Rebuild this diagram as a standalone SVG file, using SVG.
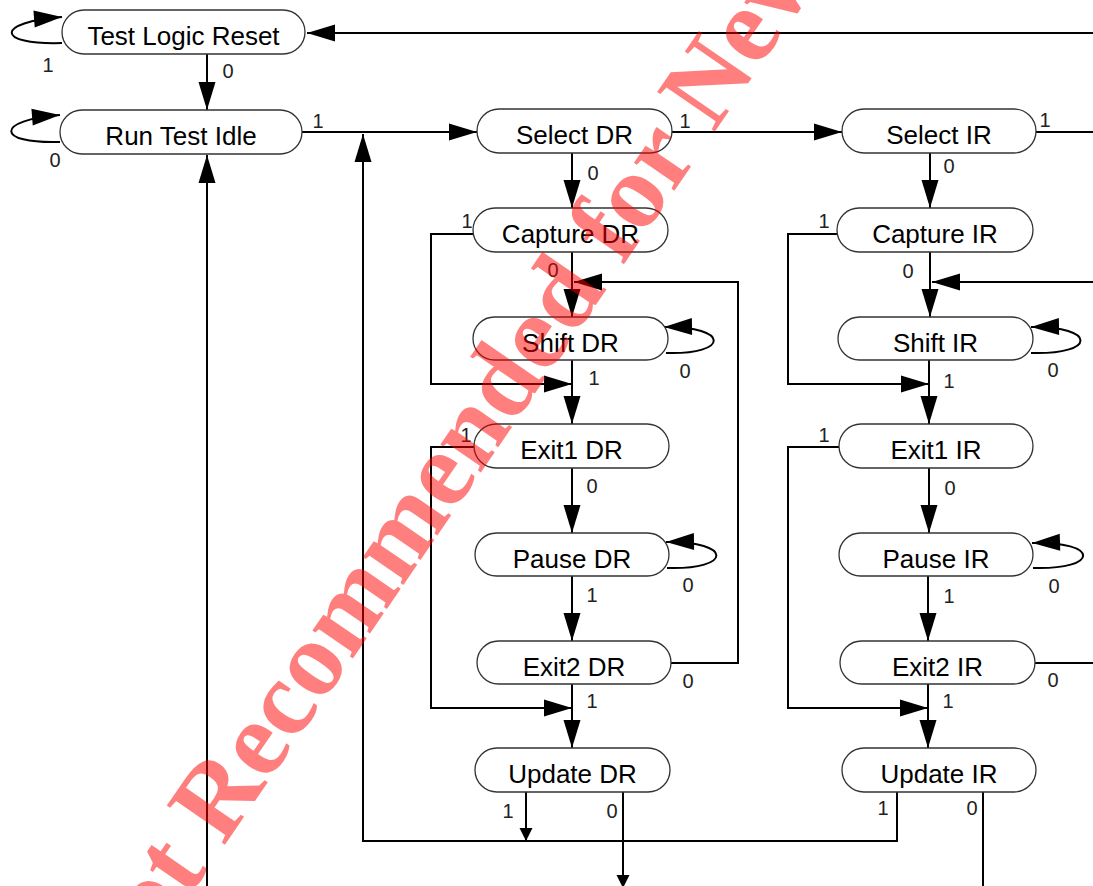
<svg xmlns="http://www.w3.org/2000/svg" width="1093" height="886" viewBox="0 0 1093 886">
<defs>
<style>
.node rect{fill:#fff;stroke:#333;stroke-width:1.3}
.node text{font-family:"Liberation Sans",Arial,sans-serif;font-size:26px;fill:#000;text-anchor:middle}
.conn path{fill:none;stroke:#000;stroke-width:2}
.big{marker-end:url(#ah)}
.small{marker-end:url(#as)}
.lbl{font-family:"Liberation Sans",Arial,sans-serif;font-size:20px;fill:#222;text-anchor:middle}
.wm{font-family:"Liberation Serif","Times New Roman",serif;font-weight:bold;font-size:107px;fill:#ff0000;fill-opacity:0.5}
</style>
<marker id="ah" markerUnits="userSpaceOnUse" markerWidth="28" markerHeight="18" refX="28" refY="9" orient="auto" overflow="visible">
<path d="M0,0.5 L28,9 L0,17.5 z" fill="#000"/>
</marker>
<marker id="as" markerUnits="userSpaceOnUse" markerWidth="13" markerHeight="13" refX="13" refY="6.5" orient="auto" overflow="visible">
<path d="M0,0 L13,6.5 L0,13 z" fill="#000"/>
</marker>
</defs>
<rect width="1093" height="886" fill="#fff"/>

<g id="connectors" class="conn">
<path class="big" d="M62 43 C-5 45,-5 22,62 17"/>
<path class="big" d="M207 54 V110"/>
<path class="big" d="M1093 33 H307"/>
<path class="big" d="M60 142 C-5 144,-5 120,60 115"/>
<path class="big" d="M302 132 H477"/>
<path class="big" d="M897 792 V841 H363 V134"/>
<path class="big" d="M207 886 V155"/>
<path class="big" d="M672 132 H842"/>
<path d="M1036 132 H1093"/>
<path class="big" d="M572 153 V208"/>
<path class="big" d="M572 252 V317"/>
<path class="big" d="M473 234 H431 V384 H572"/>
<path class="big" d="M666 353 C730 355,730 326,664 327"/>
<path class="big" d="M572 360 V424"/>
<path class="big" d="M474 447 H431 V708 H572"/>
<path class="big" d="M572 468 V533"/>
<path class="big" d="M667 568 C733 570,733 541,666 542"/>
<path class="big" d="M572 576 V641"/>
<path class="big" d="M671 663 H738 V282 H574"/>
<path class="big" d="M572 684 V748"/>
<path class="small" d="M526 792 V841"/>
<path class="small" d="M623 792 V888"/>
<path d="M983 792 V886"/>
<path class="big" d="M930 153 V208"/>
<path class="big" d="M930 252 V317"/>
<path class="big" d="M837 234 H788 V384 H929"/>
<path class="big" d="M1093 282 H932"/>
<path class="big" d="M1031 353 C1097 355,1097 326,1031 327"/>
<path class="big" d="M929 360 V424"/>
<path class="big" d="M839 447 H788 V708 H928"/>
<path class="big" d="M929 468 V533"/>
<path class="big" d="M1033 568 C1100 570,1100 541,1032 543"/>
<path class="big" d="M928 576 V641"/>
<path d="M1035 663 H1093"/>
<path class="big" d="M928 684 V748"/>
<g id="edge-labels">
<text class="lbl" x="48" y="72">1</text>
<text class="lbl" x="228" y="78">0</text>
<text class="lbl" x="55" y="167">0</text>
<text class="lbl" x="318" y="128">1</text>
<text class="lbl" x="685" y="128">1</text>
<text class="lbl" x="1045" y="127">1</text>
<text class="lbl" x="593" y="180">0</text>
<text class="lbl" x="949" y="173">0</text>
<text class="lbl" x="467" y="228">1</text>
<text class="lbl" x="553" y="277">0</text>
<text class="lbl" x="685" y="378">0</text>
<text class="lbl" x="594" y="385">1</text>
<text class="lbl" x="466" y="442">1</text>
<text class="lbl" x="592" y="493">0</text>
<text class="lbl" x="688" y="592">0</text>
<text class="lbl" x="592" y="602">1</text>
<text class="lbl" x="688" y="688">0</text>
<text class="lbl" x="592" y="708">1</text>
<text class="lbl" x="508" y="818">1</text>
<text class="lbl" x="612" y="818">0</text>
<text class="lbl" x="824" y="228">1</text>
<text class="lbl" x="908" y="278">0</text>
<text class="lbl" x="1053" y="377">0</text>
<text class="lbl" x="949" y="388">1</text>
<text class="lbl" x="824" y="442">1</text>
<text class="lbl" x="950" y="495">0</text>
<text class="lbl" x="1054" y="593">0</text>
<text class="lbl" x="949" y="603">1</text>
<text class="lbl" x="1053" y="687">0</text>
<text class="lbl" x="948" y="708">1</text>
<text class="lbl" x="883" y="815">1</text>
<text class="lbl" x="972" y="815">0</text>
</g>
</g>

<g id="test-logic-reset" class="node"><rect x="62" y="10" width="243" height="44" rx="22"/><text x="183.5" y="45">Test Logic Reset</text></g>
<g id="run-test-idle" class="node"><rect x="60" y="110" width="242" height="44" rx="22"/><text x="181" y="145">Run Test Idle</text></g>
<g id="select-dr" class="node"><rect x="477" y="109" width="195" height="44" rx="22"/><text x="574.5" y="144">Select DR</text></g>
<g id="capture-dr" class="node"><rect x="473" y="208" width="195" height="44" rx="22"/><text x="570.5" y="243">Capture DR</text></g>
<g id="shift-dr" class="node"><rect x="473" y="317" width="195" height="43" rx="21.5"/><text x="570.5" y="352">Shift DR</text></g>
<g id="exit1-dr" class="node"><rect x="474" y="424" width="195" height="44" rx="22"/><text x="571.5" y="459">Exit1 DR</text></g>
<g id="pause-dr" class="node"><rect x="475" y="533" width="194" height="43" rx="21.5"/><text x="572" y="568">Pause DR</text></g>
<g id="exit2-dr" class="node"><rect x="477" y="641" width="194" height="43" rx="21.5"/><text x="574" y="676">Exit2 DR</text></g>
<g id="update-dr" class="node"><rect x="475" y="748" width="195" height="44" rx="22"/><text x="572.5" y="783">Update DR</text></g>
<g id="select-ir" class="node"><rect x="842" y="109" width="194" height="44" rx="22"/><text x="939" y="144">Select IR</text></g>
<g id="capture-ir" class="node"><rect x="837" y="208" width="196" height="44" rx="22"/><text x="935" y="243">Capture IR</text></g>
<g id="shift-ir" class="node"><rect x="838" y="317" width="195" height="43" rx="21.5"/><text x="935.5" y="352">Shift IR</text></g>
<g id="exit1-ir" class="node"><rect x="839" y="424" width="194" height="44" rx="22"/><text x="936" y="459">Exit1 IR</text></g>
<g id="pause-ir" class="node"><rect x="839" y="533" width="194" height="43" rx="21.5"/><text x="936" y="568">Pause IR</text></g>
<g id="exit2-ir" class="node"><rect x="840" y="641" width="195" height="43" rx="21.5"/><text x="937.5" y="676">Exit2 IR</text></g>
<g id="update-ir" class="node"><rect x="842" y="748" width="194" height="44" rx="22"/><text x="939" y="783">Update IR</text></g>

<text class="wm" transform="translate(114,1006) rotate(-55.5)">Not Recommended for New Designs</text>
</svg>
